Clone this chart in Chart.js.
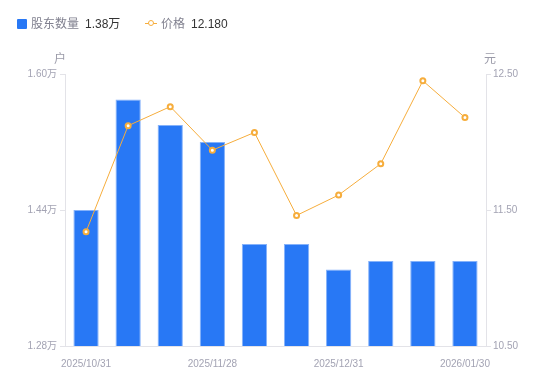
<!DOCTYPE html>
<html>
<head>
<meta charset="utf-8">
<script src="https://cdn.jsdelivr.net/npm/chart.js@4/dist/chart.umd.min.js"></script>
<style>
  html, body { margin:0; padding:0; background:#fff; }
  #wrap { position:relative; width:550px; height:381px; font-family:"Liberation Sans","Noto Sans CJK SC",sans-serif; }
  canvas { position:absolute; left:0; top:0; }
  .lg { position:absolute; top:16px; font-size:12px; line-height:16px; white-space:nowrap; }
  .lab { color:#80808f; }
  .val { color:#333; margin-left:6px; }
  .unit { position:absolute; top:49px; font-size:12px; color:#9a9aa8; }
</style>
</head>
<body>
<div id="wrap">
  <canvas id="c" width="550" height="381"></canvas>
  <div class="lg" style="left:17px;">
    <span style="display:inline-block;width:10px;height:10px;background:#2878f5;border-radius:1px;vertical-align:-1px;margin-right:4px;"></span><span class="lab">股东数量</span><span class="val">1.38万</span>
  </div>
  <div class="lg" style="left:145px;">
    <span style="display:inline-block;position:relative;width:12px;height:10px;vertical-align:-1px;margin-right:4px;">
      <span style="position:absolute;left:0;top:4px;width:12px;height:1px;background:#f6ad3c;"></span>
      <span style="position:absolute;left:3px;top:1px;width:4px;height:4px;border:1.5px solid #f6ad3c;border-radius:50%;background:#fff;"></span>
    </span><span class="lab">价格</span><span class="val">12.180</span>
  </div>
  <div class="unit" style="left:54px;">户</div>
  <div class="unit" style="left:484px;">元</div>
</div>
<script>
const categories = ["2025/10/31","2025/11/10","2025/11/20","2025/11/28","2025/12/10","2025/12/19","2025/12/31","2026/01/09","2026/01/20","2026/01/30"];
const holders = [1.44, 1.57, 1.54, 1.52, 1.40, 1.40, 1.37, 1.38, 1.38, 1.38];
const prices = [11.34, 12.12, 12.26, 11.94, 12.07, 11.46, 11.61, 11.84, 12.45, 12.18];
const leftTicks = [1.28, 1.44, 1.60];
const rightTicks = [10.50, 11.50, 12.50];
const shownLabelIdx = [0, 3, 6, 9];

const tickColor = '#a3a3b3';
const axisColor = '#e3e3e8';
const font = { family: '"Liberation Sans","Noto Sans CJK SC",sans-serif', size: 10 };

new Chart(document.getElementById('c'), {
  data: {
    labels: categories,
    datasets: [
      {
        type: 'line', label: '价格', data: prices, yAxisID: 'yR',
        borderColor: '#f6ad3c', borderWidth: 1, backgroundColor: '#fff',
        pointRadius: 2.5, pointBorderWidth: 2, pointBorderColor: '#f6ad3c', pointBackgroundColor: '#fff',
        tension: 0, order: 0
      },
      {
        type: 'bar', label: '股东数量', data: holders, yAxisID: 'yL',
        backgroundColor: '#2878f5', borderColor: 'rgba(120,170,250,0.9)', borderWidth: {left:1,right:1,top:1,bottom:0},
        categoryPercentage: 1, barPercentage: 0.6, order: 1
      }
    ]
  },
  options: {
    responsive: false, animation: false,
    layout: { padding: { top: 74, left: 0, right: 0, bottom: 0 } },
    plugins: { legend: { display: false }, tooltip: { enabled: false } },
    scales: {
      x: {
        grid: { display: false },
        border: { display: true, color: axisColor, width: 1 },
        ticks: {
          autoSkip: false, maxRotation: 0, minRotation: 0, color: tickColor, font, padding: 4,
          callback: function(v, i) { return shownLabelIdx.includes(i) ? categories[i] : ''; }
        },
        afterFit: s => { s.height = 35; }
      },
      yL: {
        position: 'left', min: 1.28, max: 1.60,
        afterBuildTicks: s => { s.ticks = leftTicks.map(v => ({ value: v })); },
        grid: { display: true, drawOnChartArea: false, drawTicks: true, tickLength: 5, color: axisColor },
        border: { display: true, color: axisColor, width: 1 },
        ticks: { color: tickColor, font, padding: 3, callback: v => v.toFixed(2) + '万' },
        afterFit: s => { s.width = 65; }
      },
      yR: {
        position: 'right', min: 10.5, max: 12.5,
        afterBuildTicks: s => { s.ticks = rightTicks.map(v => ({ value: v })); },
        grid: { display: true, drawOnChartArea: false, drawTicks: true, tickLength: 5, color: axisColor },
        border: { display: true, color: axisColor, width: 1 },
        ticks: { color: tickColor, font, padding: 2, callback: v => v.toFixed(2) },
        afterFit: s => { s.width = 64; }
      }
    }
  }
});
</script>
</body>
</html>
